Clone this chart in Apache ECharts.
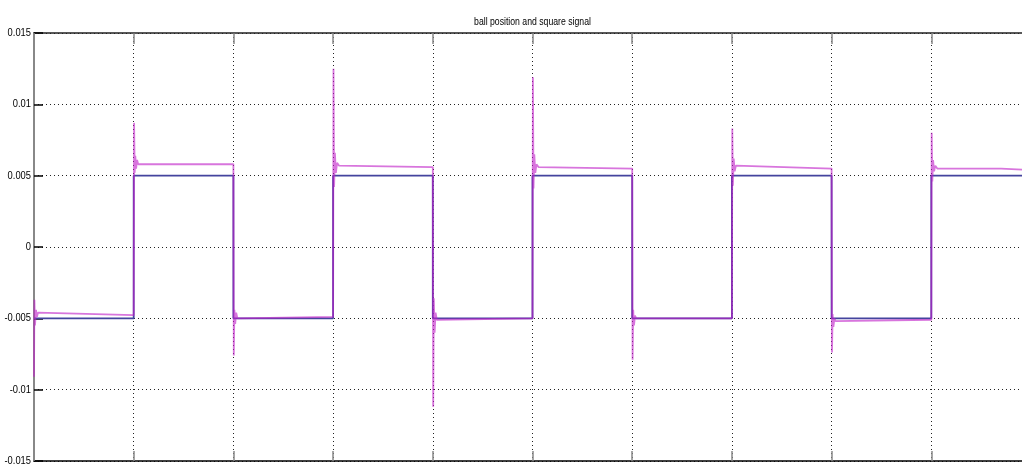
<!DOCTYPE html>
<html>
<head>
<meta charset="utf-8">
<script src="https://cdn.jsdelivr.net/npm/echarts@6/dist/echarts.min.js"></script>
<style>
  html, body { margin: 0; padding: 0; background: #fff; }
  #chart { width: 1022px; height: 466px; }
</style>
</head>
<body>
<div id="chart"></div>
<script>
// Square reference signal: level held from each switching time to the next
const signalTimes  = [0, 1, 2, 3, 4, 5, 6, 7, 8, 9, 10];
const signalLevels = [-0.005, 0.005, -0.005, 0.005, -0.005, 0.005, -0.005, 0.005, -0.005, 0.005, 0.005];

// Measured ball position (time, position)
const ballTime = [
  0.000, 0.004, 0.010, 0.020, 0.030, 0.040, 0.060, 1.000,
  1.004, 1.010, 1.016, 1.024, 1.034, 1.045, 1.060, 2.000,
  2.004, 2.010, 2.018, 2.028, 2.040, 2.060, 3.000,
  3.004, 3.010, 3.018, 3.028, 3.040, 3.060, 4.000,
  4.004, 4.010, 4.018, 4.028, 4.040, 4.060, 5.000,
  5.004, 5.010, 5.018, 5.028, 5.040, 5.060, 6.000,
  6.004, 6.010, 6.018, 6.028, 6.040, 7.000,
  7.004, 7.010, 7.018, 7.028, 7.040, 7.060, 8.000,
  8.004, 8.010, 8.018, 8.028, 8.040, 8.060, 9.000,
  9.004, 9.010, 9.018, 9.028, 9.040, 9.060, 9.700, 9.710, 10.000
];
const ballPos = [
  -0.0091, -0.0037, -0.0055, -0.0044, -0.0049, -0.0046, -0.0047, -0.00478,
  0.0087, 0.0052, 0.0064, 0.0055, 0.0061, 0.0058, 0.0059, 0.0058,
  -0.0076, -0.0044, -0.0054, -0.0046, -0.0050, -0.0049, -0.0049,
  0.0125, 0.0042, 0.0066, 0.0052, 0.0059, 0.0057, 0.0056,
  -0.0112, -0.0036, -0.0060, -0.0046, -0.0051, -0.0050, -0.0050,
  0.0119, 0.0041, 0.0065, 0.0052, 0.0058, 0.0056, 0.0055,
  -0.0079, -0.0044, -0.0055, -0.0048, -0.0050, -0.0050,
  0.0083, 0.0043, 0.0062, 0.0053, 0.0057, 0.0056, 0.0055,
  -0.0074, -0.0047, -0.0056, -0.0050, -0.0052, -0.0051, -0.0051,
  0.0080, 0.0046, 0.0061, 0.0053, 0.0057, 0.0055, 0.0055, 0.0054, 0.0054
];

// Y tick values and the labels printed beside them
const yTicks      = [0.015, 0.01, 0.005, 0, -0.005, -0.01, -0.015];
const yTickLabels = ['0.015', '0.01', '0.005', '0', '-0.005', '-0.01', '-0.015'];
const chartTitle  = 'ball position and square signal';

const signalData = signalTimes.map((t, i) => [t, signalLevels[i]]);
const ballData = ballTime.map((t, i) => [t, ballPos[i]]);

const FONT = '"Liberation Sans", Arial, sans-serif';
const dotted = { color: '#222', width: 1, type: [1, 3] };

const chart = echarts.init(document.getElementById('chart'), null, { renderer: 'canvas' });
chart.setOption({
  animation: false,
  backgroundColor: '#ffffff',
  grid: { left: 34, top: 33, width: 997, height: 428, containLabel: false, outerBoundsMode: 'none' },
  xAxis: [
    {
      type: 'value', min: 0, max: 10, interval: 1, position: 'bottom',
      axisLine: { show: true, onZero: false, lineStyle: { color: '#000', width: 1.5 } },
      axisTick: { show: true, inside: true, length: 10, lineStyle: { color: '#888', width: 1.5 } },
      axisLabel: { show: false },
      splitLine: { show: true, lineStyle: dotted }
    },
    {
      type: 'value', min: 0, max: 10, interval: 1, position: 'top',
      axisLine: { show: true, onZero: false, lineStyle: { color: '#222', width: 1.5 } },
      axisTick: { show: true, inside: true, length: 11, lineStyle: { color: '#888', width: 1.5 } },
      axisLabel: { show: false },
      splitLine: { show: false }
    }
  ],
  yAxis: {
    type: 'value', min: -0.015, max: 0.015, interval: 0.005,
    axisLine: { show: true, onZero: false, lineStyle: { color: '#888', width: 2 } },
    axisTick: { show: true, inside: true, length: 9, lineStyle: { color: '#000', width: 1.5 } },
    axisLabel: { show: false },
    splitLine: { show: true, lineStyle: dotted }
  },
  series: [
    {
      name: 'square signal', type: 'line', xAxisIndex: 0,
      data: signalData, step: 'end', showSymbol: false, symbol: 'none',
      lineStyle: { color: '#44449e', width: 1.8 }, z: 2
    },
    {
      name: 'ball position', type: 'line', xAxisIndex: 0,
      data: ballData, showSymbol: false, symbol: 'none',
      lineStyle: { color: '#c020c8', width: 1.8, opacity: 0.62 }, z: 3
    }
  ]
});

// Narrow labels: tick text and title drawn as scaled graphic text at axis positions
const labelX = chart.convertToPixel({ xAxisIndex: 0 }, 0) - 3;
const graphics = yTicks.map((v, i) => ({
  type: 'text',
  x: labelX,
  y: chart.convertToPixel({ yAxisIndex: 0 }, v),
  scaleX: 0.85,
  silent: true,
  style: {
    text: yTickLabels[i], fill: '#000', font: '11px ' + FONT,
    textAlign: 'right', textVerticalAlign: 'middle'
  }
}));
const titleX = (chart.convertToPixel({ xAxisIndex: 0 }, 0) + chart.convertToPixel({ xAxisIndex: 0 }, 10)) / 2;
graphics.push({
  type: 'text', x: titleX, y: 22, scaleX: 0.79, silent: true,
  style: {
    text: chartTitle, fill: '#000', font: '11px ' + FONT,
    textAlign: 'center', textVerticalAlign: 'middle'
  }
});
chart.setOption({ graphic: graphics });
</script>
</body>
</html>
